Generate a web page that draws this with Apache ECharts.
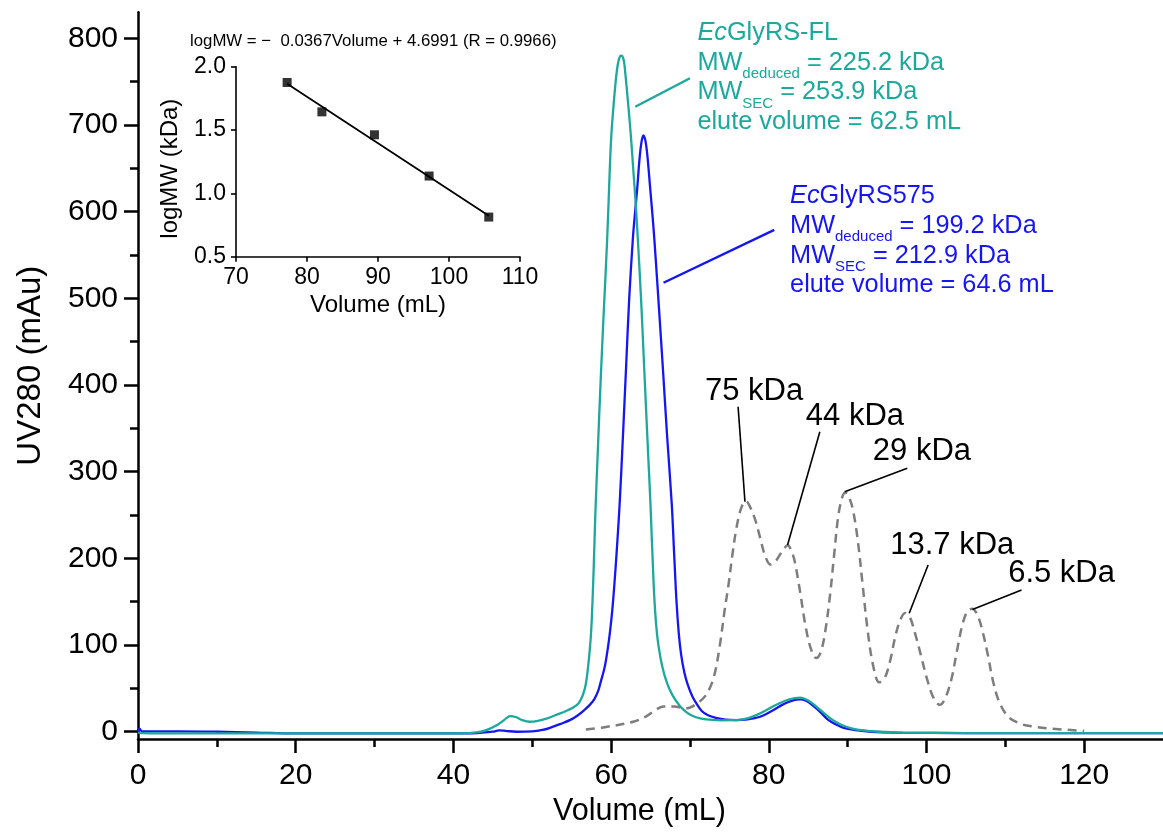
<!DOCTYPE html>
<html>
<head>
<meta charset="utf-8">
<script src="https://cdn.jsdelivr.net/npm/echarts@6/dist/echarts.min.js"></script>
<style>
  html, body { margin: 0; padding: 0; background: #fff; }
  #chart { width: 1163px; height: 834px; }
</style>
</head>
<body>
<div id="chart"></div>
<script>
// ---- SEC traces: elution volume (mL) and UV280 (mAu) ----
const flVolume = [0, 0.5, 5, 15, 30, 40, 42, 43.5, 44.5, 45.6, 46.5, 47.2, 47.9, 48.7, 49.7, 50.7, 51.9, 53.2, 54.3, 55.2, 55.9, 56.4, 56.8, 57.2, 57.5, 57.8, 58.0, 58.3, 58.7, 59.1, 59.5, 59.8, 60.0, 60.3, 60.7, 61.0, 61.3, 61.6, 61.8, 62.2, 62.55, 62.85, 63.15, 63.4, 63.8, 64.2, 64.6, 65.0, 65.4, 65.7, 66.0, 66.5, 67.1, 67.8, 68.7, 69.5, 70.3, 71.3, 72.5, 74.0, 75.4, 76.5, 77.5, 78.5, 79.5, 80.5, 81.5, 82.5, 83.3, 84.0, 84.7, 85.5, 86.3, 87.2, 88.2, 89.2, 90.5, 92.0, 94.0, 97, 105, 130];
const flUV = [-1, -1.5, -2, -2, -2, -2, -1.5, 0, 3, 8, 14, 18, 17, 13.5, 11.5, 12.5, 15.5, 20, 24, 28, 33, 42, 55, 85, 120, 190, 250, 320, 410, 490, 567, 640, 683, 721, 760, 776, 780, 775, 760, 721, 683, 644, 606, 567, 500, 420, 340, 262, 170, 125, 100, 75, 56, 42, 30, 23, 18.5, 15.5, 14, 13.2, 13.3, 14, 16, 19.5, 24, 29, 33.5, 37, 38.8, 39.2, 37.5, 33, 27, 20, 13, 8, 4, 1.5, 0, -1, -1.5, -1.5];

const t575Volume = [0, 0.2, 0.5, 5, 10, 15, 20, 40, 43, 45, 45.8, 46.6, 48, 50, 51.3, 52.4, 53.6, 54.9, 55.8, 56.6, 57.3, 57.9, 58.4, 58.7, 59.2, 59.6, 59.9, 60.2, 60.5, 60.8, 61.1, 61.5, 61.9, 62.3, 62.75, 62.95, 63.3, 63.6, 63.85, 64.1, 64.35, 64.6, 64.95, 65.35, 65.7, 66.1, 66.6, 67.1, 67.7, 68.0, 68.3, 68.6, 68.9, 69.3, 69.7, 70.3, 70.8, 71.5, 72.3, 73.3, 74.5, 75.9, 77.0, 78.0, 78.8, 79.8, 80.8, 81.7, 82.7, 83.5, 84.1, 84.8, 85.6, 86.5, 87.5, 88.5, 89.5, 91, 93, 96, 105, 130];
const t575UV = [0, 3.5, 0.5, 0.5, 0, -1, -2, -2, -1.5, 0, 1.5, 1, 0, 0.3, 2, 5, 9, 14, 19, 25, 31, 38, 48, 58, 75, 97, 118, 145, 180, 220, 265, 340, 420, 500, 567, 590, 625, 660, 680, 688, 682, 665, 628, 585, 540, 485, 415, 342, 262, 205, 150, 112, 88, 68, 55, 41, 33, 24, 19, 16, 14, 13.5, 14, 15.5, 17, 21, 26, 31, 35, 37, 37.5, 35.5, 30, 23, 14, 8.5, 4.5, 2, 0, -1, -1.5, -1.5];

const stdVolume = [56.8, 59, 62.8, 64.5, 65.8, 66.7, 68, 69.6, 70.8, 72.0, 73.0, 73.8, 74.4, 74.9, 75.4, 75.9, 76.5, 77.1, 77.7, 78.3, 78.9, 79.5, 80.2, 80.8, 81.4, 82.0, 82.4, 82.9, 83.3, 84.0, 84.6, 85.3, 86.0, 86.6, 87.2, 87.8, 88.3, 88.8, 89.3, 89.7, 90.2, 90.7, 91.3, 91.9, 92.5, 93.2, 94.0, 94.7, 95.4, 96.0, 96.6, 97.3, 97.9, 98.6, 99.3, 100.1, 100.9, 101.7, 102.4, 103.2, 103.9, 104.6, 105.2, 105.8, 106.4, 107.0, 107.8, 108.4, 109.2, 110.4, 112.0, 113.5, 116.0, 120.0];
const stdUV = [2.7, 5, 11.5, 18, 26, 29, 29, 27, 32, 42, 62, 100, 140, 170, 205, 235, 258, 266, 258, 244, 224, 204, 193, 196, 204, 212, 215, 208, 196, 160, 125, 97, 85, 92, 118, 160, 205, 248, 270, 276, 270, 255, 220, 170, 120, 78, 57, 62, 82, 108, 127, 137, 132, 112, 88, 60, 39, 31, 39, 62, 95, 125, 139, 142, 136, 120, 88, 60, 35, 17, 9, 6, 3.5, 1];

// ---- calibration standards (inset) ----
const stdNames = ['75 kDa', '44 kDa', '29 kDa', '13.7 kDa', '6.5 kDa'];
const stdMW = [75, 44, 29, 13.7, 6.5];
const stdPeakVolume = [77.2, 82.1, 89.5, 97.2, 105.6];
const fitSlope = -0.0367;
const fitIntercept = 4.6991;
const fitText = 'logMW = \u2212  0.0367Volume + 4.6991 (R = 0.9966)';

// ---- axis ticks ----
const mainXTicks = [0, 20, 40, 60, 80, 100, 120];
const mainXMinor = [10, 30, 50, 70, 90, 110];
const mainYTicks = [0, 100, 200, 300, 400, 500, 600, 700, 800];
const mainYMinor = [50, 150, 250, 350, 450, 550, 650, 750];

const FONT = '"Liberation Sans", Arial, Helvetica, sans-serif';
const TEAL = '#1CA99B';
const BLUE = '#1616F2';
const GREY = '#7d7d7d';

const zip = (xs, ys) => xs.map((x, i) => [x, ys[i]]);

const axisBlack = { color: '#000', width: 2.5 };

const option = {
  backgroundColor: '#fff',
  animation: false,
  grid: [
    { left: 138, right: -6, top: 12.3, bottom: 94.9 },
    { left: 236, top: 66.7, width: 284, height: 190 }
  ],
  xAxis: [
    {
      gridIndex: 0, type: 'value', min: 0, max: 130, position: 'bottom',
      axisLine: { onZero: false, lineStyle: axisBlack },
      axisTick: { customValues: mainXTicks, length: 14, lineStyle: axisBlack },
      axisLabel: { customValues: mainXTicks, margin: 22, fontSize: 30, color: '#000', fontFamily: FONT },
      splitLine: { show: false },
      name: 'Volume (mL)', nameLocation: 'middle', nameGap: 54,
      nameTextStyle: { fontSize: 30.5, color: '#000', fontFamily: FONT, padding: [0, 22, 0, 0] }
    },
    {
      gridIndex: 0, type: 'value', min: 0, max: 130, position: 'bottom',
      axisLine: { show: false, onZero: false },
      axisTick: { customValues: mainXMinor, length: 8, lineStyle: axisBlack },
      axisLabel: { show: false },
      splitLine: { show: false }
    },
    {
      gridIndex: 1, type: 'value', min: 70, max: 110, interval: 10, position: 'bottom',
      axisLine: { onZero: false, lineStyle: { color: '#000', width: 1.6 } },
      axisTick: { length: 5, lineStyle: { color: '#000', width: 1.6 } },
      axisLabel: { margin: 9, fontSize: 23, color: '#000', fontFamily: FONT },
      splitLine: { show: false },
      name: 'Volume (mL)', nameLocation: 'middle', nameGap: 37,
      nameTextStyle: { fontSize: 24, color: '#000', fontFamily: FONT }
    }
  ],
  yAxis: [
    {
      gridIndex: 0, type: 'value', min: -8.5, max: 830, position: 'left',
      axisLine: { onZero: false, lineStyle: axisBlack },
      axisTick: { customValues: mainYTicks, length: 14, lineStyle: axisBlack },
      axisLabel: { customValues: mainYTicks, margin: 20, fontSize: 30, color: '#000', fontFamily: FONT },
      splitLine: { show: false },
      name: 'UV280 (mAu)', nameLocation: 'middle', nameGap: 91, nameRotate: 90,
      nameTextStyle: { fontSize: 33, color: '#000', fontFamily: FONT, padding: [0, 0, 0, 20] }
    },
    {
      gridIndex: 0, type: 'value', min: -8.5, max: 830, position: 'left',
      axisLine: { show: false, onZero: false },
      axisTick: { customValues: mainYMinor, length: 8, lineStyle: axisBlack },
      axisLabel: { show: false },
      splitLine: { show: false }
    },
    {
      gridIndex: 1, type: 'value', min: 0.5, max: 2.0, interval: 0.5, position: 'left',
      axisLine: { onZero: false, lineStyle: { color: '#000', width: 1.6 } },
      axisTick: { length: 5, lineStyle: { color: '#000', width: 1.6 } },
      axisLabel: { margin: 10, fontSize: 23, color: '#000', fontFamily: FONT, formatter: v => v.toFixed(1) },
      splitLine: { show: false },
      name: 'logMW (kDa)', nameLocation: 'middle', nameGap: 54, nameRotate: 90,
      nameTextStyle: { fontSize: 24, color: '#000', fontFamily: FONT, padding: [0, 14, 0, 0] }
    }
  ],
  series: [
    {
      name: 'Standards', type: 'line', xAxisIndex: 0, yAxisIndex: 0,
      data: zip(stdVolume, stdUV), showSymbol: false, smooth: 0.35,
      lineStyle: { color: GREY, width: 2.5, type: [9, 6] }, z: 2
    },
    {
      name: 'EcGlyRS575', type: 'line', xAxisIndex: 0, yAxisIndex: 0,
      data: zip(t575Volume, t575UV), showSymbol: false, smooth: 0.35,
      lineStyle: { color: BLUE, width: 2.3 }, z: 3
    },
    {
      name: 'EcGlyRS-FL', type: 'line', xAxisIndex: 0, yAxisIndex: 0,
      data: zip(flVolume, flUV), showSymbol: false, smooth: 0.35,
      lineStyle: { color: TEAL, width: 2.3 }, z: 4
    },
    {
      name: 'Calibration fit', type: 'line', xAxisIndex: 2, yAxisIndex: 2,
      data: [stdPeakVolume[0], stdPeakVolume[stdPeakVolume.length - 1]].map(v => [v, fitSlope * v + fitIntercept]),
      showSymbol: false, lineStyle: { color: '#000', width: 1.8 }, z: 5
    },
    {
      name: 'Calibration standards', type: 'scatter', xAxisIndex: 2, yAxisIndex: 2,
      data: zip(stdPeakVolume, stdMW.map(m => Math.log10(m))),
      symbol: 'rect', symbolSize: 9, itemStyle: { color: '#000' }, z: 6
    }
  ]
};

const chart = echarts.init(document.getElementById('chart'), null, { renderer: 'canvas' });
chart.setOption(option);

// ---- annotations, anchored in data units of the main plot ----
const toPx = (v, a) => chart.convertToPixel({ xAxisIndex: 0, yAxisIndex: 0 }, [v, a]);

// leader lines: [fromVolume, fromUV, toVolume, toUV]
const traceLeaders = [
  { color: TEAL, pts: [63.07, 721.1, 70.0, 753.9] },
  { color: BLUE, pts: [66.65, 518.0, 80.7, 578.9] }
];
const peakLeaders = [
  [76.11, 374.9, 76.98, 265.3],
  [86.48, 346.1, 82.38, 215.4],
  [97.57, 303.9, 89.63, 276.9],
  [100.21, 192.3, 97.81, 136.6],
  [112.06, 163.5, 105.83, 141.0]
];
// peak-label anchors: left edge, vertical middle
const peakLabelPos = [
  [71.9, 393.0],
  [84.7, 364.2],
  [93.2, 323.8],
  [95.4, 215.4],
  [110.36, 183.1]
];

const graphics = [];
const addLine = (p, color, width) => {
  const a = toPx(p[0], p[1]), b = toPx(p[2], p[3]);
  graphics.push({ type: 'line', shape: { x1: a[0], y1: a[1], x2: b[0], y2: b[1] },
    style: { stroke: color, lineWidth: width }, z: 20 });
};
traceLeaders.forEach(l => addLine(l.pts, l.color, 2.4));
peakLeaders.forEach(p => addLine(p, '#000', 1.6));

stdNames.forEach((t, i) => {
  const p = toPx(peakLabelPos[i][0], peakLabelPos[i][1]);
  graphics.push({ type: 'text', x: p[0], y: p[1], z: 21,
    style: { text: t, fill: '#000', fontSize: 31, fontFamily: FONT, align: 'left', verticalAlign: 'middle' } });
});

const blockRich = color => ({
  n: { fill: color, fontSize: 25.3, fontFamily: FONT, lineHeight: 29.8 },
  it: { fill: color, fontSize: 25.3, fontFamily: FONT, fontStyle: 'italic', lineHeight: 29.8 },
  sub: { fill: color, fontSize: 15, fontFamily: FONT, lineHeight: 10, padding: [22, 0, 0, 0] }
});
const blockText = (name, mwDed, mwSec, vol) =>
  '{it|Ec}{n|' + name + '}\n' +
  '{n|MW}{sub|deduced}{n| = ' + mwDed + ' kDa}\n' +
  '{n|MW}{sub|SEC}{n| = ' + mwSec + ' kDa}\n' +
  '{n|elute volume = ' + vol + ' mL}';

const flBlock = toPx(70.95, 823.5);
graphics.push({ type: 'text', x: flBlock[0], y: flBlock[1], z: 21,
  style: { text: blockText('GlyRS-FL', '225.2', '253.9', '62.5'), rich: blockRich(TEAL), align: 'left', verticalAlign: 'top' } });
const t575Block = toPx(82.7, 635.3);
graphics.push({ type: 'text', x: t575Block[0], y: t575Block[1], z: 21,
  style: { text: blockText('GlyRS575', '199.2', '212.9', '64.6'), rich: blockRich(BLUE), align: 'left', verticalAlign: 'top' } });

// inset regression equation
graphics.push({ type: 'text', x: 190, y: 41.7, z: 21,
  style: { text: fitText, fill: '#000', fontSize: 16.8, fontFamily: FONT, align: 'left', verticalAlign: 'middle' } });

chart.setOption({ graphic: graphics });
</script>
</body>
</html>
